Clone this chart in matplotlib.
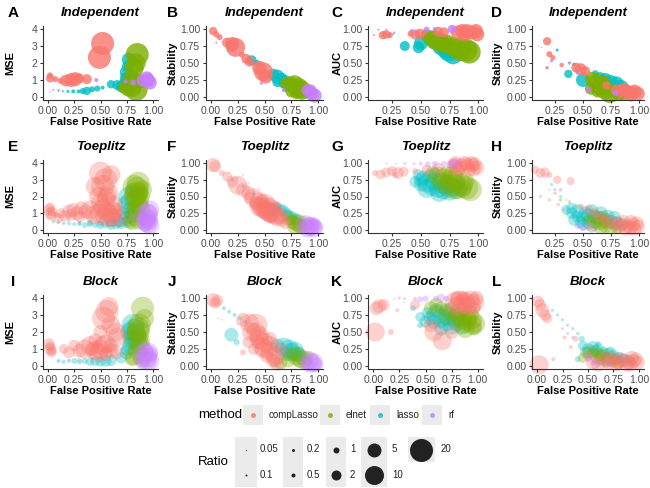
import numpy as np
import matplotlib
matplotlib.use("Agg")
import matplotlib.pyplot as plt
from matplotlib.patches import Rectangle

plt.rcParams['font.family'] = ['Liberation Sans', 'DejaVu Sans']

# ---------------- data: (false positive rate, metric, ratio) ----------------
methods = ["compLasso", "elnet", "lasso", "rf"]
ratio_breaks = [0.05, 0.1, 0.2, 0.5, 1, 2, 5, 10, 20]

# Panel A: Independent, MSE
A_lasso = [(0.10,0.37,0.1),(0.14,0.35,0.1),(0.19,0.33,0.2),(0.24,0.33,0.5),(0.29,0.33,0.5),(0.33,0.35,1),(0.37,0.36,1.5),(0.42,0.45,1),(0.47,0.5,1),(0.52,0.55,0.5),(0.60,0.75,1.5),(0.66,0.7,2),(0.70,0.62,3),(0.73,0.8,3),(0.75,1.45,5),(0.77,2.2,5),(0.76,1.8,3),(0.79,1.2,5),(0.74,1.1,3)]
A_elnet = [(0.72,0.55,3),(0.76,0.45,5),(0.80,0.55,10),(0.84,0.45,20),(0.80,1.0,10),(0.82,1.7,10),(0.84,2.0,10),(0.85,2.5,20),(0.87,0.9,5),(0.78,0.8,3)]
A_comp = [(0.02,1.27,1),(0.02,1.1,1.5),(0.07,1.05,1),(0.12,0.95,1),(0.17,0.97,3),(0.22,1.0,5),(0.26,1.05,5),(0.30,1.1,2),(0.37,1.05,2),(0.49,2.33,20),(0.52,3.15,20)]
A_rf = [(0.02,0.3,0.05),(0.05,0.42,0.1),(0.10,0.40,0.1),(0.15,0.3,0.05),(0.46,1.0,0.5),(0.74,0.9,0.5),(0.81,0.85,1),(0.90,0.95,3),(0.94,1.1,5),(0.97,0.85,5),(0.95,1.0,5)]

# Panel B: Independent, Stability
B_lasso = [(0.38,0.54,2),(0.43,0.5,1),(0.58,0.33,3),(0.62,0.3,5),(0.66,0.27,3),(0.69,0.22,5),(0.73,0.18,3),(0.77,0.15,5),(0.80,0.12,3),(0.70,0.12,1),(0.62,0.22,2)]
B_elnet = [(0.70,0.2,3),(0.74,0.2,5),(0.78,0.18,10),(0.82,0.14,10),(0.85,0.1,10),(0.80,0.07,5),(0.75,0.08,3),(0.88,0.08,5)]
B_comp = [(0.02,0.97,1.5),(0.05,0.92,1),(0.08,0.88,1),(0.15,0.8,2),(0.19,0.75,3),(0.23,0.73,10),(0.20,0.78,5),(0.33,0.56,2),(0.36,0.52,2),(0.45,0.43,5),(0.49,0.37,10),(0.51,0.3,5),(0.29,0.62,1)]
B_rf = [(0.05,0.8,0.1),(0.47,0.2,0.2),(0.68,0.1,0.5),(0.90,0.1,3),(0.94,0.05,5),(0.97,0.02,5),(0.93,0.1,3)]

# Panel C: Independent, AUC
C_lasso = [(0.26,0.93,0.1),(0.36,0.75,2),(0.48,0.73,3),(0.50,0.79,5),(0.57,0.85,3),(0.62,0.8,5),(0.68,0.75,10),(0.74,0.66,10),(0.78,0.62,10),(0.72,0.7,10),(0.83,0.66,5)]
C_elnet = [(0.58,0.88,5),(0.62,0.84,10),(0.67,0.8,10),(0.72,0.78,10),(0.78,0.74,10),(0.84,0.7,20),(0.89,0.69,20),(0.92,0.66,20),(0.55,0.9,3)]
C_comp = [(0.09,0.91,0.1),(0.17,0.91,1.5),(0.20,0.92,1.5),(0.23,0.91,1),(0.41,0.93,1),(0.45,0.92,2),(0.49,0.93,2),(0.53,0.95,1),(0.65,0.96,2),(0.70,0.95,2),(0.82,0.95,5),(0.86,0.97,5),(0.90,0.97,5),(0.94,0.95,5),(0.98,0.97,5),(0.99,0.92,5),(0.88,0.92,5)]
C_rf = [(0.13,0.99,0.1),(0.20,0.99,0.1),(0.27,0.95,0.1),(0.42,0.97,0.5),(0.55,0.99,1),(0.77,1.0,1.5),(0.62,1.0,0.5)]

# Panel D: Independent, Stability (second setting)
D_lasso = [(0.27,0.69,0.2),(0.37,0.34,1.5),(0.42,0.48,0.3),(0.50,0.25,5),(0.61,0.35,1),(0.65,0.28,3),(0.70,0.25,5),(0.75,0.22,5),(0.80,0.2,5),(0.84,0.15,5),(0.87,0.12,3)]
D_elnet = [(0.58,0.27,5),(0.62,0.2,10),(0.66,0.15,10),(0.70,0.1,10),(0.74,0.05,10),(0.78,0.08,5),(0.82,0.05,5),(0.63,0.08,3),(0.86,0.03,3),(0.57,0.12,3),(0.68,0.22,5)]
D_comp = [(0.10,0.75,0.05),(0.18,0.82,1.5),(0.20,0.63,1),(0.23,0.58,0.8),(0.18,0.43,0.3),(0.31,0.47,0.6),(0.44,0.43,2),(0.48,0.41,3),(0.52,0.38,2),(0.71,0.17,1.5),(0.80,0.1,3),(0.84,0.07,3),(0.88,0.09,5),(0.92,0.06,5),(0.96,0.08,5),(0.99,0.05,5),(0.93,0.02,3),(0.86,0.12,3)]
D_rf = [(0.13,0.73,0.05),(0.22,0.53,0.2),(0.38,0.5,0.3),(0.55,0.11,1),(0.79,0.06,1),(0.45,0.35,0.2)]

# Panel E: Toeplitz, MSE
E_comp = [(0.01,1.2,3),(0.02,1.0,3),(0.03,0.85,2),(0.02,1.35,2),(0.04,1.1,2),(0.08,0.9,1),(0.12,1.0,2),(0.16,0.85,3),(0.2,1.1,5),(0.24,1.2,5),(0.28,1.0,5),(0.32,1.3,5),(0.36,1.1,5),(0.40,1.2,10),(0.44,0.9,10),(0.48,1.0,10),(0.52,1.3,10),(0.56,1.1,10),(0.60,0.8,10),(0.64,0.9,5),(0.68,0.6,5),(0.62,1.5,10),(0.50,3.4,20),(0.55,3.0,20),(0.52,2.6,20),(0.58,2.2,10),(0.48,2.0,10),(0.55,1.8,10),(0.60,3.3,10),(0.45,2.6,10),(0.58,1.0,10),(0.54,0.8,10),(0.62,1.1,10),(0.50,1.6,10),(0.56,2.0,10),(0.60,0.6,5),(0.66,1.2,5),(0.30,0.8,3),(0.22,0.9,3),(0.10,0.7,2)]
E_lasso = [(0.05,0.5,0.3),(0.1,0.45,0.3),(0.15,0.4,0.3),(0.2,0.4,0.5),(0.25,0.35,0.5),(0.3,0.35,0.5),(0.35,0.3,1),(0.4,0.35,1),(0.45,0.3,1),(0.5,0.3,1.5),(0.55,0.35,1.5),(0.6,0.3,2),(0.65,0.35,2),(0.7,0.4,3),(0.75,0.5,3),(0.78,0.8,5),(0.75,1.5,10),(0.76,2.0,10),(0.8,1.2,10),(0.72,1.0,5),(0.8,2.4,5),(0.78,1.7,10),(0.74,0.7,5),(0.68,0.5,3),(0.6,0.45,2),(0.5,0.4,1),(0.4,0.45,1),(0.3,0.42,0.5)]
E_elnet = [(0.82,2.6,20),(0.86,2.8,20),(0.84,2.2,20),(0.85,1.7,20),(0.88,1.3,10),(0.82,1.0,10),(0.86,0.6,10),(0.8,0.4,5),(0.9,2.4,10),(0.84,1.9,10),(0.88,2.0,10),(0.85,2.5,20),(0.83,2.0,20),(0.86,1.5,10),(0.84,1.2,10),(0.87,2.3,10),(0.83,0.8,10),(0.78,0.5,5)]
E_rf = [(0.94,0.9,20),(0.96,0.6,10),(0.93,0.5,10),(0.97,1.2,10),(0.92,0.3,5),(0.95,0.4,10),(0.95,1.0,10),(0.94,0.7,10),(0.97,0.3,10),(0.1,0.6,0.1),(0.2,0.55,0.1),(0.3,0.5,0.1),(0.4,0.55,0.1),(0.5,0.6,0.1),(0.6,0.6,0.2),(0.7,0.6,0.3),(0.8,0.7,1)]

# Panel F: Toeplitz, Stability
F_comp = [(0.02,0.97,5),(0.04,0.95,3),(0.1,0.85,1),(0.15,0.8,2),(0.2,0.72,3),(0.25,0.67,10),(0.3,0.6,5),(0.35,0.55,5),(0.4,0.48,10),(0.45,0.42,10),(0.5,0.37,20),(0.55,0.3,20),(0.58,0.25,10),(0.52,0.28,10),(0.62,0.2,10),(0.6,0.32,5),(0.47,0.33,10),(0.42,0.4,5),(0.66,0.15,5),(0.7,0.1,3),(0.55,0.2,5),(0.36,0.48,3),(0.5,0.3,10),(0.55,0.25,10),(0.45,0.35,10),(0.6,0.22,10),(0.52,0.35,10),(0.48,0.42,5),(0.65,0.2,5)]
F_lasso = [(0.3,0.65,0.3),(0.4,0.55,0.5),(0.55,0.38,1),(0.6,0.33,2),(0.65,0.3,3),(0.7,0.25,3),(0.75,0.2,3),(0.8,0.15,3),(0.85,0.1,2),(0.68,0.3,2),(0.58,0.28,2),(0.2,0.75,0.3),(0.72,0.22,3),(0.78,0.17,3),(0.62,0.35,2)]
F_elnet = [(0.72,0.18,5),(0.76,0.12,5),(0.8,0.08,5),(0.84,0.05,5),(0.78,0.04,5),(0.86,0.12,3),(0.82,0.15,3),(0.88,0.03,3),(0.78,0.1,5),(0.82,0.06,5),(0.75,0.15,3)]
F_rf = [(0.88,0.08,10),(0.92,0.05,10),(0.96,0.03,10),(0.95,0.08,5),(0.98,0.05,5),(0.9,0.03,10),(0.94,0.06,10),(0.3,0.82,0.1),(0.16,0.72,0.1),(0.45,0.62,0.1),(0.25,0.77,0.1),(0.35,0.7,0.1)]

# Panel G: Toeplitz, AUC
G_comp = [(0.1,0.85,1),(0.15,0.83,2),(0.2,0.86,2),(0.25,0.88,2),(0.3,0.85,3),(0.35,0.87,2),(0.28,0.82,1),(0.45,0.88,1),(0.55,0.9,2),(0.65,0.92,3),(0.8,0.95,5),(0.85,0.97,5),(0.9,0.95,5),(0.95,0.97,5),(0.99,0.93,5),(0.82,0.9,5),(0.92,0.9,5),(0.97,0.98,5),(0.88,1.0,5),(0.78,0.98,3),(0.84,0.93,5),(0.9,0.98,5),(0.96,0.9,5),(0.8,1.0,5),(0.94,1.0,5)]
G_lasso = [(0.45,0.72,3),(0.5,0.68,5),(0.55,0.7,10),(0.6,0.65,10),(0.65,0.62,10),(0.7,0.6,10),(0.75,0.58,10),(0.8,0.6,10),(0.58,0.8,5),(0.52,0.78,5),(0.68,0.72,10),(0.85,0.62,5),(0.62,0.85,3),(0.55,0.62,10),(0.62,0.72,10),(0.5,0.75,5),(0.72,0.66,10),(0.66,0.56,10),(0.78,0.65,10),(0.48,0.82,3)]
G_elnet = [(0.6,0.85,5),(0.65,0.8,10),(0.7,0.78,10),(0.75,0.75,10),(0.8,0.7,10),(0.85,0.67,20),(0.9,0.63,20),(0.93,0.6,20),(0.72,0.85,5),(0.78,0.82,10),(0.88,0.72,10),(0.82,0.6,10),(0.68,0.7,10),(0.74,0.68,10),(0.8,0.76,10),(0.86,0.62,10),(0.76,0.62,10)]
G_rf = [(0.2,0.99,0.1),(0.28,0.99,0.1),(0.36,0.99,0.2),(0.44,0.99,0.2),(0.5,0.99,0.5),(0.56,0.98,1),(0.62,0.99,1),(0.7,0.99,1),(0.76,0.98,1.5),(0.8,1.0,2),(0.25,0.9,0.1)]

# Panel H: Toeplitz, Stability (second setting)
H_comp = [(0.07,0.9,1.5),(0.12,0.85,2),(0.16,0.86,2),(0.2,0.82,1),(0.27,0.75,1.5),(0.3,0.6,0.5),(0.39,0.73,1.5),(0.12,0.5,0.3),(0.2,0.45,0.3),(0.28,0.38,0.3),(0.33,0.3,0.2),(0.25,0.55,0.3),(0.48,0.35,1),(0.55,0.3,2),(0.6,0.25,2),(0.7,0.15,3),(0.75,0.12,5),(0.8,0.1,5),(0.85,0.08,5),(0.9,0.06,5),(0.95,0.08,5),(0.99,0.05,5),(0.88,0.02,5),(0.93,0.12,5),(0.98,0.1,5),(0.82,0.05,5),(0.92,0.03,5),(0.96,0.02,5),(0.86,0.12,5),(0.65,0.2,3)]
H_lasso = [(0.35,0.3,2),(0.4,0.25,3),(0.45,0.2,3),(0.5,0.18,5),(0.55,0.22,5),(0.6,0.2,5),(0.65,0.18,5),(0.7,0.15,5),(0.75,0.12,5),(0.8,0.1,5),(0.5,0.08,3),(0.42,0.15,3),(0.62,0.1,3),(0.85,0.08,3),(0.3,0.5,0.2),(0.25,0.6,0.2),(0.22,0.68,0.2),(0.45,0.28,5),(0.52,0.25,5),(0.58,0.28,5),(0.66,0.25,5),(0.72,0.2,5),(0.78,0.18,5),(0.4,0.32,3),(0.55,0.12,5),(0.48,0.12,3)]
H_elnet = [(0.55,0.15,3),(0.6,0.12,5),(0.65,0.1,5),(0.7,0.06,5),(0.75,0.04,5),(0.68,0.2,3),(0.58,0.05,3),(0.8,0.02,3),(0.3,0.45,0.3),(0.38,0.42,0.3),(0.62,0.18,5),(0.7,0.12,5),(0.66,0.04,5)]
H_rf = [(0.45,0.06,1),(0.5,0.03,1),(0.55,0.05,1.5),(0.6,0.02,1),(0.2,0.6,0.1),(0.35,0.45,0.1),(0.5,0.3,0.2)]

# Panel I: Block, MSE
I_comp = [(0.01,1.3,3),(0.02,1.0,3),(0.03,0.8,2),(0.02,1.15,2),(0.04,0.9,2),(0.15,1.0,2),(0.2,0.8,3),(0.25,1.2,3),(0.3,0.9,5),(0.35,1.0,10),(0.4,1.2,10),(0.45,0.9,10),(0.5,1.0,10),(0.55,1.3,10),(0.6,0.9,5),(0.65,0.8,5),(0.56,3.2,20),(0.53,2.8,20),(0.6,2.4,10),(0.64,2.0,10),(0.66,1.7,10),(0.5,2.0,5),(0.58,3.5,10),(0.45,1.5,5),(0.48,0.8,10),(0.52,1.2,10),(0.42,1.0,5),(0.6,1.2,5),(0.55,0.7,5)]
I_lasso = [(0.1,0.3,0.5),(0.15,0.25,0.5),(0.2,0.3,0.5),(0.25,0.3,1),(0.3,0.28,1),(0.35,0.3,1),(0.4,0.25,1.5),(0.45,0.3,2),(0.5,0.25,2),(0.55,0.3,3),(0.6,0.35,3),(0.7,0.5,3),(0.75,0.8,5),(0.8,1.2,10),(0.81,2.4,20),(0.83,1.8,20),(0.78,2.0,10),(0.85,1.4,10),(0.82,2.1,20),(0.8,1.6,10),(0.76,1.0,5)]
I_elnet = [(0.9,3.4,20),(0.87,2.4,20),(0.86,2.0,20),(0.84,1.6,20),(0.88,1.2,10),(0.85,0.9,10),(0.82,0.6,10),(0.9,0.5,10),(0.92,2.8,10),(0.8,0.4,5),(0.86,2.2,20),(0.84,1.9,10),(0.88,1.5,10)]
I_rf = [(0.92,0.8,10),(0.95,0.5,10),(0.97,0.3,10),(0.9,0.2,5),(0.93,1.0,5),(0.98,0.7,5),(0.88,0.5,5),(0.94,0.3,10),(0.96,0.8,10),(0.1,0.3,0.1),(0.2,0.35,0.1),(0.3,0.3,0.1)]

# Panel J: Block, Stability
J_comp = [(0.02,0.97,5),(0.04,0.93,3),(0.06,0.96,3),(0.3,0.68,5),(0.36,0.63,10),(0.42,0.6,20),(0.38,0.5,10),(0.45,0.45,10),(0.5,0.35,10),(0.48,0.28,10),(0.55,0.22,10),(0.6,0.15,10),(0.58,0.08,5),(0.62,0.03,5),(0.52,0.15,5),(0.44,0.35,5),(0.4,0.25,3),(0.35,0.35,3),(0.3,0.2,1),(0.65,0.25,5),(0.55,0.4,5),(0.5,0.25,10),(0.45,0.4,10),(0.55,0.3,10),(0.42,0.5,10),(0.6,0.08,5)]
J_lasso = [(0.12,0.85,0.5),(0.17,0.8,0.5),(0.22,0.75,0.5),(0.27,0.7,0.5),(0.32,0.65,0.5),(0.19,0.46,5),(0.24,0.35,1),(0.62,0.3,5),(0.68,0.28,10),(0.73,0.25,10),(0.78,0.22,10),(0.82,0.18,5),(0.7,0.18,5),(0.85,0.12,5),(0.75,0.2,10),(0.8,0.16,5)]
J_elnet = [(0.75,0.18,5),(0.8,0.15,10),(0.85,0.1,10),(0.88,0.05,5),(0.72,0.08,5),(0.65,0.05,5),(0.9,0.12,5),(0.82,0.08,5)]
J_rf = [(0.92,0.08,10),(0.96,0.05,10),(0.98,0.02,5),(0.9,0.02,5),(0.94,0.04,10),(0.07,0.7,0.1),(0.1,0.68,0.1),(0.25,0.62,0.1)]

# Panel K: Block, AUC
K_comp = [(0.03,0.85,5),(0.06,0.88,5),(0.1,0.9,3),(0.02,0.5,10),(0.17,0.5,1),(0.23,0.82,0.5),(0.4,0.9,2),(0.58,0.5,10),(0.66,0.37,10),(0.55,0.6,5),(0.75,0.5,5),(0.78,0.95,10),(0.83,0.97,10),(0.88,0.95,10),(0.93,0.97,10),(0.97,0.93,10),(0.8,0.88,10),(0.9,0.88,10),(0.96,0.85,5),(0.86,1.0,5),(0.99,1.0,5),(0.85,0.92,10),(0.94,0.9,10),(0.8,1.0,5)]
K_lasso = [(0.38,0.85,1),(0.45,0.72,2),(0.5,0.65,3),(0.55,0.7,5),(0.6,0.75,10),(0.65,0.7,10),(0.7,0.65,10),(0.75,0.6,10),(0.8,0.65,10),(0.85,0.6,10),(0.6,0.82,5),(0.7,0.82,5),(0.45,0.6,1),(0.65,0.55,5),(0.58,0.65,5),(0.72,0.72,10),(0.78,0.7,10),(0.52,0.78,3)]
K_elnet = [(0.55,0.85,5),(0.6,0.9,5),(0.65,0.85,5),(0.7,0.75,10),(0.75,0.8,10),(0.8,0.72,10),(0.85,0.68,10),(0.9,0.65,10),(0.95,0.6,10),(0.98,0.62,10),(0.92,0.75,10),(0.88,0.55,10),(0.97,0.55,5),(0.82,0.78,10),(0.9,0.7,10),(0.95,0.68,10),(0.86,0.62,10)]
K_rf = [(0.2,0.99,0.1),(0.25,1.0,0.2),(0.3,0.99,0.2),(0.4,0.99,0.5),(0.45,0.98,1),(0.5,0.99,1),(0.6,0.99,1),(0.65,1.0,1.5),(0.7,0.99,1),(0.3,0.94,0.1)]

# Panel L: Block, Stability (second setting)
L_comp = [(0.01,0.95,3),(0.03,0.9,3),(0.05,0.82,5),(0.08,0.75,3),(0.1,0.7,2),(0.02,0.02,10),(0.16,0.1,0.5),(0.27,0.42,0.5),(0.33,0.28,0.5),(0.38,0.4,1),(0.55,0.05,5),(0.6,0.02,5),(0.65,0.1,5),(0.7,0.05,5),(0.75,0.08,5),(0.8,0.05,5),(0.85,0.08,5),(0.9,0.05,5),(0.95,0.07,5),(0.99,0.05,5),(0.88,0.02,5),(0.93,0.12,5),(0.97,0.1,5),(0.5,0.15,2),(0.82,0.1,5),(0.92,0.02,5),(0.78,0.02,5),(0.72,0.12,5)]
L_lasso = [(0.15,0.82,0.2),(0.2,0.75,0.2),(0.25,0.68,0.2),(0.3,0.6,0.2),(0.35,0.55,0.2),(0.4,0.48,0.3),(0.44,0.4,1),(0.45,0.3,2),(0.5,0.25,3),(0.55,0.28,3),(0.6,0.25,3),(0.65,0.2,3),(0.7,0.18,3),(0.75,0.15,3),(0.8,0.12,3),(0.85,0.1,3),(0.9,0.08,3),(0.4,0.1,1),(0.55,0.18,3),(0.68,0.12,3),(0.6,0.32,1),(0.48,0.2,3),(0.58,0.22,3),(0.72,0.2,3),(0.78,0.1,3),(0.62,0.15,3)]
L_elnet = [(0.5,0.2,3),(0.55,0.22,3),(0.6,0.18,3),(0.65,0.15,5),(0.7,0.1,5),(0.75,0.08,3),(0.62,0.1,3),(0.8,0.04,3),(0.45,0.12,2),(0.58,0.12,3),(0.68,0.06,3)]
L_rf = [(0.3,0.48,0.2),(0.35,0.42,0.3),(0.25,0.55,0.2),(0.5,0.1,1),(0.55,0.05,1),(0.6,0.02,1),(0.7,0.03,1)]

titles = ["Independent", "Toeplitz", "Block"]
ylabels = ["MSE", "Stability", "AUC", "Stability"]
xlabel = "False Positive Rate"

panel_data = {
    "A": dict(compLasso=A_comp, elnet=A_elnet, lasso=A_lasso, rf=A_rf),
    "B": dict(compLasso=B_comp, elnet=B_elnet, lasso=B_lasso, rf=B_rf),
    "C": dict(compLasso=C_comp, elnet=C_elnet, lasso=C_lasso, rf=C_rf),
    "D": dict(compLasso=D_comp, elnet=D_elnet, lasso=D_lasso, rf=D_rf),
    "E": dict(compLasso=E_comp, elnet=E_elnet, lasso=E_lasso, rf=E_rf),
    "F": dict(compLasso=F_comp, elnet=F_elnet, lasso=F_lasso, rf=F_rf),
    "G": dict(compLasso=G_comp, elnet=G_elnet, lasso=G_lasso, rf=G_rf),
    "H": dict(compLasso=H_comp, elnet=H_elnet, lasso=H_lasso, rf=H_rf),
    "I": dict(compLasso=I_comp, elnet=I_elnet, lasso=I_lasso, rf=I_rf),
    "J": dict(compLasso=J_comp, elnet=J_elnet, lasso=J_lasso, rf=J_rf),
    "K": dict(compLasso=K_comp, elnet=K_elnet, lasso=K_lasso, rf=K_rf),
    "L": dict(compLasso=L_comp, elnet=L_elnet, lasso=L_lasso, rf=L_rf),
}

# ---------------- style ----------------
colors = {"compLasso": "#F8766D", "elnet": "#7CAE00", "lasso": "#00BFC4", "rf": "#C77CFF"}
draw_order = ["lasso", "elnet", "compLasso", "rf"]
diam_px = [1.3, 2.0, 3.0, 4.0, 6.0, 10.0, 14.0, 19.0, 23.0]

def s_of(r):
    d = np.interp(np.log(np.asarray(r, float)), np.log(ratio_breaks), diam_px)
    return (d * 0.72) ** 2

W, H = 650, 488
fig = plt.figure(figsize=(6.5, 4.88), dpi=100)

def fx(px): return px / W
def fy(py): return 1 - py / H

col_box = [(42.75, 158.25), (205.65, 323.35), (368.0, 483.0), (532.0, 644.0)]
row_box = [(25.6, 100.4), (159.65, 233.35), (294.6, 369.4)]
ylab_x = [10, 173, 338, 498]
tag_x = [13, 172, 337, 497]

tick_col = "#4D4D4D"
tags = "ABCDEFGHIJKL"
for i, tag in enumerate(tags):
    r, c = divmod(i, 4)
    x0, x1 = col_box[c]
    y0, y1 = row_box[r]
    ax = fig.add_axes([fx(x0), fy(y1), fx(x1) - fx(x0), (y1 - y0) / H])
    ax.set_facecolor("white")
    alpha = 0.8 if r == 0 else 0.33
    d = panel_data[tag]
    for m in draw_order:
        pts = np.array(d[m])
        ax.scatter(pts[:, 0], pts[:, 1], s=s_of(pts[:, 2]), color=colors[m],
                   alpha=alpha, linewidths=0, clip_on=False)
    # x axis
    if c in (2, 3) and r < 2:
        ax.set_xlim(0.04 if c == 2 else 0.045, 1.04 if c == 2 else 1.045)
        ax.set_xticks([0.25, 0.5, 0.75, 1.0])
        ax.set_xticklabels(["0.25", "0.50", "0.75", "1.00"])
    else:
        ax.set_xlim(-0.05, 1.05)
        ax.set_xticks([0, 0.25, 0.5, 0.75, 1.0])
        ax.set_xticklabels(["0.00", "0.25", "0.50", "0.75", "1.00"])
    if c == 0:
        ax.set_ylim(-0.2, 4.2)
        ax.set_yticks([0, 1, 2, 3, 4])
        ax.set_yticklabels(["0", "1", "2", "3", "4"])
    else:
        ax.set_ylim(-0.05, 1.05)
        ax.set_yticks([0, 0.25, 0.5, 0.75, 1.0])
        ax.set_yticklabels(["0.00", "0.25", "0.50", "0.75", "1.00"])
    for sp in ["top", "right"]:
        ax.spines[sp].set_visible(False)
    for sp in ["left", "bottom"]:
        ax.spines[sp].set_color("#333333")
        ax.spines[sp].set_linewidth(0.8)
    ax.tick_params(axis="both", length=2.5, width=0.8, color="#333333",
                   labelsize=7.5, labelcolor=tick_col, pad=1.5)
    # title, tag, labels
    cx = (x0 + x1) / 2
    fig.text(fx(cx), fy(y0 - 13), titles[r], ha="center", va="center",
             fontsize=9.5, fontweight="bold", fontstyle="italic")
    fig.text(fx(tag_x[c]), fy(y0 - 13), tag, ha="center", va="center",
             fontsize=11, fontweight="bold")
    fig.text(fx(ylab_x[c]), fy((y0 + y1) / 2), ylabels[c], ha="center", va="center",
             rotation=90, fontsize=8, fontweight="bold")
    fig.text(fx(cx), fy(y1 + 21.5), xlabel, ha="center", va="center",
             fontsize=8, fontweight="bold")

# ---------------- legends ----------------
lg = fig.add_axes([0, 0, 1, 1], facecolor="none")
lg.set_xlim(0, W)
lg.set_ylim(H, 0)
lg.axis("off")
key_bg = "#EBEBEB"

lg.text(198, 415, "method", ha="left", va="center", fontsize=9.5)
m_key_x = [253, 330, 380, 432]
for kx, m in zip(m_key_x, methods):
    lg.add_patch(Rectangle((kx - 10, 405), 20, 20, color=key_bg, lw=0))
    lg.scatter([kx], [415], s=(5 * 0.72) ** 2, color=colors[m], alpha=0.8, linewidths=0)
    lg.text(kx + 16, 415, m, ha="left", va="center", fontsize=7, color="#222222")

lg.text(198, 462, "Ratio", ha="left", va="center", fontsize=9.5)
r_cols = [(246, 22, [0.05, 0.1]), (293, 20, [0.2, 0.5]), (336, 20, [1, 2]),
          (374, 26, [5, 10]), (421, 27, [20])]
r_rows = [449.5, 474.5]
r_lab_dx = [14, 14, 14, 18, 20]
for (kx, kw, vals), ldx in zip(r_cols, r_lab_dx):
    lg.add_patch(Rectangle((kx - kw / 2, 437), kw, 25 * len(vals), color=key_bg, lw=0))
    for j, v in enumerate(vals):
        lg.scatter([kx], [r_rows[j]], s=s_of(v), color="#222222", linewidths=0)
        lab = ("%g" % v)
        lg.text(kx + ldx, r_rows[j], lab, ha="left", va="center", fontsize=7, color="#222222")

fig.savefig("out.png", dpi=100)
